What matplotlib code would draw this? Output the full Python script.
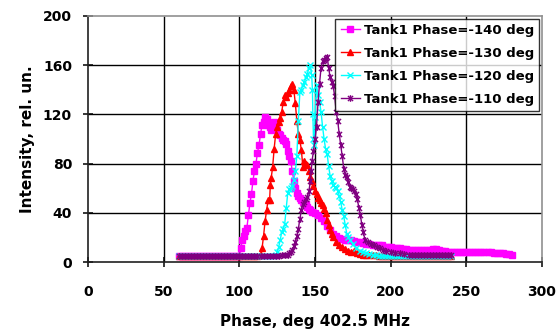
import numpy as np
import matplotlib.pyplot as plt
from matplotlib.path import Path

plt.rcParams['font.family'] = ['Liberation Sans', 'DejaVu Sans']
plt.rcParams['font.weight'] = 'bold'
face = 'DejaVu Sans'

# Tank1 phase = -140 deg
x140 = [60, 62, 64, 66, 68, 70, 72, 74, 76, 78, 80, 82, 84, 86, 88, 90, 92, 94, 96, 98, 100,
        101, 102, 103, 104, 105, 106, 107, 108, 109, 110, 111, 112, 113, 114, 115, 116, 117, 118, 119,
        120, 121, 122, 123, 124, 125, 126, 127, 128, 129, 130, 131, 132, 133, 134, 135, 136, 137, 138, 139,
        140, 141, 142, 143, 144, 145, 146, 147, 148, 150, 152, 154, 156, 158, 160, 162, 164, 166, 168, 170,
        172, 174, 176, 178, 180, 182, 184, 186, 188, 190, 192, 194, 196, 198, 200, 202, 204, 206, 208, 210,
        212, 214, 216, 218, 220, 222, 224, 226, 228, 230, 232, 234, 236, 238, 240, 242, 244, 246, 248, 250,
        252, 254, 256, 258, 260, 262, 264, 266, 268, 270, 272, 274, 276, 278, 280]
y140 = [5, 5, 5, 5, 5, 5, 5, 5, 5, 5, 5, 5, 5, 5, 5, 5, 5, 5, 5, 5, 5,
        11, 18, 21, 25, 28, 38, 48, 55, 66, 74, 80, 89, 95, 104, 111, 114, 118, 116, 111,
        110, 107, 112, 114, 110, 107, 104, 103, 101, 99, 98, 96, 90, 86, 82, 74, 66, 60, 56, 54,
        52, 50, 49, 48, 47, 45, 43, 42, 41, 40, 38, 36, 33, 29, 26, 23, 21, 19.5, 18.5, 18,
        18, 17.5, 17, 16.5, 16, 15.5, 15, 14.5, 14, 14, 13.5, 13.5, 12.5, 12.5, 12, 11.5, 11, 11, 10.5, 10.5,
        10, 10, 9.5, 9.5, 9.5, 10, 10, 10, 10.5, 10.5, 10, 9, 9, 8.5, 8.5, 8.5, 8.5, 8, 8, 8.5,
        8.5, 8.5, 8.5, 8, 8, 8.5, 8.5, 8, 7.5, 7, 7, 7, 6.5, 6.5, 6]

# Tank1 phase = -130 deg
x130 = [60, 62, 64, 66, 68, 70, 72, 74, 76, 78, 80, 82, 84, 86, 88, 90, 92, 94, 96, 98, 100,
        102, 104, 106, 108, 110, 112, 114,
        115, 116, 117, 118, 119, 120, 120.5, 121, 122, 123, 124, 125, 126, 127, 128, 129, 130, 131, 132, 133,
        134, 135, 136, 137, 138, 139, 140, 141, 142, 143, 144, 145, 146, 147, 148, 149, 150, 151, 152, 153,
        154, 155, 156, 157, 158, 159, 160, 161, 162, 164, 166, 168, 170, 172, 174, 176, 178, 180, 182, 184,
        186, 188, 190, 192, 194, 196, 198, 200, 202, 204, 206, 208, 210, 212, 214, 216, 218, 220, 222, 224,
        226, 228, 230, 232, 234, 236, 238, 240]
y130 = [5, 5, 5, 5, 5, 5, 5, 5, 5, 5, 5, 5, 5, 5, 5, 5, 5, 5, 5, 5, 5,
        5, 5, 5, 5, 5, 5, 6,
        11, 21, 33, 42, 50, 50, 63, 68, 77, 92, 104, 110, 114, 117, 122, 130, 136, 134, 137, 140,
        143, 145, 140, 129, 115, 104, 99, 91, 77, 82, 80, 79, 74, 69, 66, 62, 58, 55, 52, 50,
        48, 46, 43, 40, 34, 30, 26, 23, 20, 16.5, 14, 12.5, 10.5, 9, 8.5, 9, 7, 6.5, 6, 5.7,
        5.5, 5.5, 5.5, 5, 5, 5, 5, 5, 5, 5, 5, 5, 5, 5, 5, 5, 5, 5, 5, 5,
        5, 5, 5, 5, 5, 5, 5, 5]

# Tank1 phase = -120 deg
x120 = [60, 62, 64, 66, 68, 70, 72, 74, 76, 78, 80, 82, 84, 86, 88, 90, 92, 94, 96, 98, 100,
        102, 104, 106, 108, 110, 112, 114, 116, 118, 120, 122, 124,
        125, 126, 127, 128, 129, 130, 131, 132, 133, 134, 135, 136, 137, 138, 139, 140, 141, 142, 143, 144,
        145, 146, 147, 147.8, 148.3, 148.6, 149, 149.5, 150, 151, 152, 153, 154, 155, 156, 157, 158, 159,
        160, 161, 162, 163, 164, 165, 166, 167, 168, 169, 170, 171, 172, 173, 175, 177, 180, 182, 184, 186,
        188, 190, 192, 194, 196, 198, 200, 202, 204, 206, 208, 210, 212, 214, 216, 218, 220, 222, 224, 226,
        228, 230, 232, 234, 236, 238, 240]
y120 = [5, 5, 5, 5, 5, 5, 5, 5, 5, 5, 5, 5, 5, 5, 5, 5, 5, 5, 5, 5, 5,
        5, 5, 5, 5, 5, 5, 5, 5, 5, 5, 5, 6,
        8, 12, 18, 24, 27, 31, 44, 56, 59, 60, 62, 67, 74, 86, 115, 138, 140, 144, 146, 150,
        153, 158, 160, 152, 140, 120, 100, 95, 118, 144, 136, 130, 122, 110, 100, 92, 88, 78,
        70, 66, 63, 61, 60, 58, 54, 49, 42, 37, 30, 23, 20, 18, 15, 11, 9, 8, 7, 6.5,
        6, 5.5, 5, 5, 5, 5, 5, 5, 5, 5, 5, 5, 5, 5, 5, 5, 5, 5, 5, 5,
        5, 5, 5, 5, 5, 5, 5]

# Tank1 phase = -110 deg
x110 = [60, 62, 64, 66, 68, 70, 72, 74, 76, 78, 80, 82, 84, 86, 88, 90, 92, 94, 96, 98, 100,
        102, 104, 106, 108, 110, 112, 114, 116, 118, 120, 122, 124, 126, 128, 130, 132,
        133, 134, 135, 136, 137, 138, 139, 140, 141, 142, 143, 144, 145, 146, 147, 147.5, 148, 149, 150,
        151, 152, 153, 154, 155, 156, 157, 158, 159, 160, 161, 162, 163, 164, 165, 166, 167, 168, 169,
        170, 171, 172, 173, 174, 175, 176, 177, 178, 179, 180, 181, 182, 183, 185, 187, 189, 191, 193, 195,
        197, 200, 203, 206, 209, 212, 214, 216, 218, 220, 222, 224, 226, 228, 230, 232, 234, 236, 238, 240]
y110 = [5, 5, 5, 5, 5, 5, 5, 5, 5, 5, 5, 5, 5, 5, 5, 5, 5, 5, 5, 5, 5,
        5, 5, 5, 5, 5, 5, 5, 5, 5, 5, 5, 5, 5, 5.5, 5.5, 6,
        7, 8.5, 10, 13, 16, 21, 27, 35, 42, 47, 49, 51, 53, 58, 66, 74, 82, 90, 100,
        110, 130, 145, 158, 163, 164, 166, 167, 158, 150, 146, 143, 135, 122, 115, 104, 95, 86, 76,
        71, 69, 65, 61, 60, 59, 58, 55, 51, 44, 38, 30, 24, 18, 16, 15, 13.5, 12.5, 11, 10,
        9, 8, 7.5, 7, 6.5, 6, 6, 6, 6, 6, 6, 6, 6, 6, 6, 6, 6, 6, 6, 6]

labels = ['Tank1 Phase=-140 deg', 'Tank1 Phase=-130 deg',
          'Tank1 Phase=-120 deg', 'Tank1 Phase=-110 deg']
xticks = np.arange(0, 301, 50)
yticks = np.arange(0, 201, 40)

# asterisk marker: x with a vertical stroke
star = Path([(-1, -1), (1, 1), (-1, 1), (1, -1), (0, -1.3), (0, 1.3)],
            [Path.MOVETO, Path.LINETO, Path.MOVETO, Path.LINETO, Path.MOVETO, Path.LINETO])

fig = plt.figure(figsize=(5.59, 3.33), dpi=100)
ax = fig.add_axes([0.1574, 0.2132, 0.8122, 0.7388])
ax.set_xlim(0, 300)
ax.set_ylim(0, 200)

# grid as line collections
ax.vlines(xticks[1:-1], 0, 200, colors='#000000', linewidths=1.0, zorder=1.5)
ax.hlines(yticks[1:-1], 0, 300, colors='#000000', linewidths=1.0, zorder=1.5)

ax.plot(x140, y140, color='#ff00ff', lw=1, marker='s', ms=4, mec='#ff00ff', label=labels[0], zorder=3)
ax.plot(x130, y130, color='#ff0000', lw=1, marker='^', ms=4.8, mec='#ff0000', label=labels[1], zorder=3)
ax.plot(x120, y120, color='#00ffff', lw=1, marker='x', ms=4.2, mew=1, label=labels[2], zorder=3)
ax.plot(x110, y110, color='#800080', lw=1, marker=star, ms=4.8, mew=1, label=labels[3], zorder=3)

ax.set_xticks(xticks)
ax.set_yticks(yticks)

for s in ['top', 'right']:
    ax.spines[s].set_color('#909090')
    ax.spines[s].set_linewidth(1.2)
for s in ['left', 'bottom']:
    ax.spines[s].set_color('#202020')
    ax.spines[s].set_linewidth(1.2)

ax.tick_params(axis='both', direction='inout', length=7, width=1.1, color='black', labelsize=10)
ax.tick_params(axis='x', pad=13)
ax.tick_params(axis='y', pad=8)
for lab in ax.get_xticklabels() + ax.get_yticklabels():
    lab.set_fontfamily(face)

ax.set_xlabel('Phase, deg 402.5 MHz', fontsize=11, fontweight='bold', fontfamily=face, labelpad=11)
ax.set_ylabel('Intensity, rel. un.', fontsize=11, fontweight='bold', fontfamily=face, labelpad=6)

leg = ax.legend(loc='upper right', prop={'family': face, 'weight': 'bold', 'size': 9.5},
                frameon=True, fancybox=False, edgecolor='black', borderaxespad=0.2,
                handlelength=1.45, handletextpad=0.3, labelspacing=0.75, borderpad=0.4)
leg.get_frame().set_linewidth(1)

fig.savefig('out.png', dpi=100)
